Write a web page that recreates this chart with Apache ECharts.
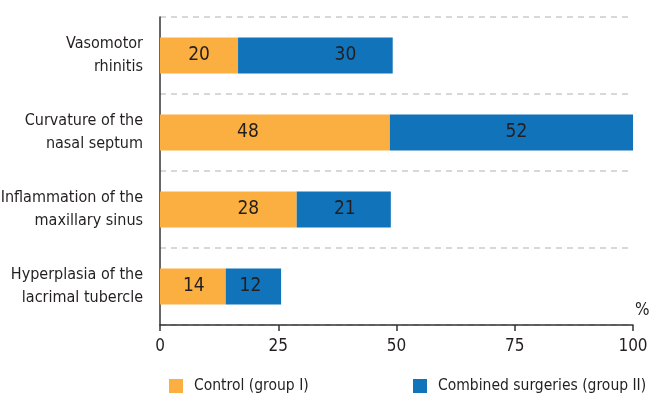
<!DOCTYPE html>
<html>
<head>
<meta charset="utf-8">
<script src="https://cdn.jsdelivr.net/npm/echarts@6/dist/echarts.min.js"></script>
<style>
  html, body { margin: 0; padding: 0; background: #fff; }
  #chart { width: 649px; height: 401px; }
</style>
</head>
<body>
<div id="chart"></div>
<script>
// data (bar lengths in %, printed numbers separately)
const categories = [
  "Vasomotor\nrhinitis",
  "Curvature of the\nnasal septum",
  "Inflammation of the\nmaxillary sinus",
  "Hyperplasia of the\nlacrimal tubercle",
]
const controlValues = [16.5, 48.6, 28.9, 13.9]
const combinedValues = [32.7, 51.4, 19.9, 11.7]
const controlLabels = [20, 48, 28, 14]
const combinedLabels = [30, 52, 21, 12]
const xTicks = [0, 25, 50, 75, 100]
const seriesNames = ["Control (group I)", "Combined surgeries (group II)"]

const FONT = '"Liberation Sans Narrow", "DejaVu Sans Condensed", sans-serif'
const TEXT = "#231f20"
const ORANGE = "#fbaf41"
const BLUE = "#1173ba"

// small horizontal nudges so the numbers sit where the original put them
const controlNudge = [0, -27, 20, 1]
const combinedNudge = [30, 5, 1, -3]

const chart = echarts.init(document.getElementById("chart"), null, { renderer: "canvas" })

function barData(values, labels, nudge) {
  return values.map((v, i) => ({
    value: v,
    label: { formatter: String(labels[i]), offset: [nudge[i], 0] },
  }))
}

const labelStyle = {
  show: true,
  position: "inside",
  color: TEXT,
  fontFamily: FONT,
  fontSize: 19,
}

const legendText = { color: TEXT, fontFamily: FONT, fontSize: 15.5, padding: [0, 0, 0, 6] }

const option = {
  backgroundColor: "#fff",
  animation: false,
  grid: { left: 160, right: 16, top: 17, bottom: 76, containLabel: false, outerBoundsMode: "none" },
  legend: [
    {
      left: 164, top: 373, itemWidth: 14, itemHeight: 14, icon: "rect",
      textStyle: legendText, data: [seriesNames[0]],
    },
    {
      left: 408, top: 373, itemWidth: 14, itemHeight: 14, icon: "rect",
      textStyle: legendText, data: [seriesNames[1]],
    },
  ],
  xAxis: {
    type: "value",
    min: xTicks[0],
    max: xTicks[xTicks.length - 1],
    interval: xTicks[1] - xTicks[0],
    name: "%",
    nameLocation: "end",
    nameGap: 2,
    nameTextStyle: {
      color: TEXT, fontFamily: FONT, fontSize: 17,
      align: "left", verticalAlign: "bottom", padding: [0, 0, 6, 0],
    },
    axisLine: { show: true, lineStyle: { color: "#333", width: 1.5 } },
    axisTick: { show: true, length: 6, lineStyle: { color: "#333", width: 1.5 } },
    axisLabel: { color: TEXT, fontFamily: FONT, fontSize: 17, margin: 13 },
    splitLine: { show: false },
  },
  yAxis: {
    type: "category",
    inverse: true,
    data: categories,
    axisLine: { show: true, lineStyle: { color: "#333", width: 1.5 } },
    axisTick: { show: false },
    axisLabel: {
      color: TEXT, fontFamily: FONT, fontSize: 16, lineHeight: 23,
      margin: 17, align: "right",
    },
    splitLine: {
      show: true,
      lineStyle: { color: "#cccccc", width: 1.5, type: [6, 5] },
    },
  },
  series: [
    {
      name: seriesNames[0],
      type: "bar",
      stack: "total",
      barWidth: 36,
      itemStyle: { color: ORANGE },
      label: labelStyle,
      data: barData(controlValues, controlLabels, controlNudge),
    },
    {
      name: seriesNames[1],
      type: "bar",
      stack: "total",
      barWidth: 36,
      itemStyle: { color: BLUE },
      label: labelStyle,
      data: barData(combinedValues, combinedLabels, combinedNudge),
    },
  ],
}

chart.setOption(option)
</script>
</body>
</html>
